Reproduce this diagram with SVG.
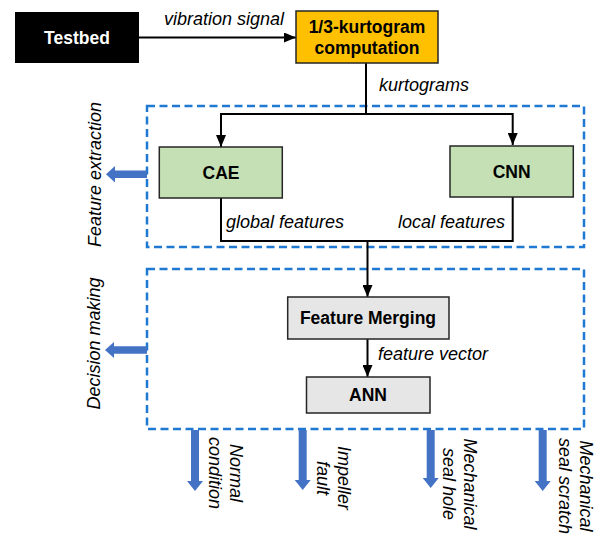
<svg xmlns="http://www.w3.org/2000/svg" width="602" height="540" viewBox="0 0 602 540">
  <style>
    text { font-family: "Liberation Sans", Arial, sans-serif; font-size: 18px; fill: #000; }
    .bold { font-weight: bold; font-size: 17.5px; text-anchor: middle; }
    .it { font-style: italic; }
    .mid { text-anchor: middle; }
    .box { stroke: #262626; stroke-width: 1.5; }
    .line { fill: none; stroke: #000; stroke-width: 2; }
    .group { fill: none; stroke: #1f78d1; stroke-width: 2.5; stroke-dasharray: 8 4.5; }
    .thick { fill: #4472c4; }
  </style>
  <defs>
    <marker id="head" markerUnits="userSpaceOnUse" markerWidth="12" markerHeight="10" refX="12" refY="5" orient="auto">
      <path d="M0,0 L12,5 L0,10 z" fill="#000"/>
    </marker>
  </defs>

  <rect width="602" height="540" fill="#fff"/>

  <!-- dashed stage frames -->
  <g id="stage-extraction">
    <rect class="group" x="147" y="106" width="437" height="141"/>
    <polygon class="thick" points="147,170.5 115,170.5 115,166 106,174.3 115,182.5 115,178 147,178"/>
    <text class="it mid" transform="translate(101,174.5) rotate(-90)">Feature extraction</text>
  </g>
  <g id="stage-decision">
    <rect class="group" x="147" y="269" width="437" height="160"/>
    <polygon class="thick" points="147,346.3 114,346.3 114,342 105,350 114,358 114,353.7 147,353.7"/>
    <text class="it mid" transform="translate(99.5,343.5) rotate(-90)">Decision making</text>
  </g>

  <!-- connectors -->
  <g id="connectors">
    <line class="line" x1="139" y1="37.5" x2="296" y2="37.5" marker-end="url(#head)"/>
    <text class="it" x="164" y="25">vibration signal</text>

    <line class="line" x1="366" y1="63" x2="366" y2="114"/>
    <text class="it" x="379" y="91">kurtograms</text>
    <polyline class="line" points="221,146 221,114 512.7,114 512.7,145" marker-end="url(#head)"/>
    <line class="line" x1="221" y1="114" x2="221" y2="147" marker-end="url(#head)"/>

    <polyline class="line" points="221,198 221,241 512.7,241 512.7,197"/>
    <text class="it" x="226" y="228">global features</text>
    <text class="it" x="505" y="228" text-anchor="end">local features</text>

    <line class="line" x1="367.5" y1="241" x2="367.5" y2="297" marker-end="url(#head)"/>
    <line class="line" x1="367.5" y1="339" x2="367.5" y2="377" marker-end="url(#head)"/>
    <text class="it" x="378" y="360">feature vector</text>
  </g>

  <!-- nodes -->
  <g id="testbed">
    <rect x="15" y="12" width="124" height="51" fill="#000"/>
    <text class="bold" x="77" y="44" style="fill:#fff">Testbed</text>
  </g>
  <g id="kurtogram">
    <rect class="box" x="296" y="11" width="142" height="52" fill="#ffc000"/>
    <text class="bold" x="367" y="32.5">1/3-kurtogram</text>
    <text class="bold" x="367" y="53.5">computation</text>
  </g>
  <g id="cae">
    <rect class="box" x="159.3" y="147" width="123" height="51" fill="#c5e0b4"/>
    <text class="bold" x="221" y="178.5">CAE</text>
  </g>
  <g id="cnn">
    <rect class="box" x="450" y="146" width="123.3" height="51" fill="#c5e0b4"/>
    <text class="bold" x="511.7" y="178">CNN</text>
  </g>
  <g id="feature-merging">
    <rect class="box" x="287.7" y="297" width="161.3" height="42" fill="#e7e6e6"/>
    <text class="bold" x="368" y="324.3">Feature Merging</text>
  </g>
  <g id="ann">
    <rect class="box" x="306.5" y="377" width="123.5" height="36" fill="#e7e6e6"/>
    <text class="bold" x="368" y="401">ANN</text>
  </g>

  <!-- fault classes -->
  <g id="out-normal">
    <polygon class="thick" points="191,430 199,430 199,481 203,481 195,491 187,481 191,481"/>
    <text class="it mid" transform="translate(229.5,473) rotate(90)">Normal</text>
    <text class="it mid" transform="translate(208.5,473) rotate(90)">condition</text>
  </g>
  <g id="out-impeller">
    <polygon class="thick" points="298.7,430 306.7,430 306.7,480 310.7,480 302.7,490 294.7,480 298.7,480"/>
    <text class="it mid" transform="translate(338,478) rotate(90)">Impeller</text>
    <text class="it mid" transform="translate(317,478) rotate(90)">fault</text>
  </g>
  <g id="out-seal-hole">
    <polygon class="thick" points="426.7,430 434.7,430 434.7,478 438.7,478 430.7,488 422.7,478 426.7,478"/>
    <text class="it mid" transform="translate(463.5,484) rotate(90)">Mechanical</text>
    <text class="it mid" transform="translate(442.5,484) rotate(90)">seal hole</text>
  </g>
  <g id="out-seal-scratch">
    <polygon class="thick" points="538.7,430 546.7,430 546.7,481 550.7,481 542.7,491 534.7,481 538.7,481"/>
    <text class="it mid" transform="translate(580,486) rotate(90)">Mechanical</text>
    <text class="it mid" transform="translate(559,486) rotate(90)">seal scratch</text>
  </g>
</svg>
